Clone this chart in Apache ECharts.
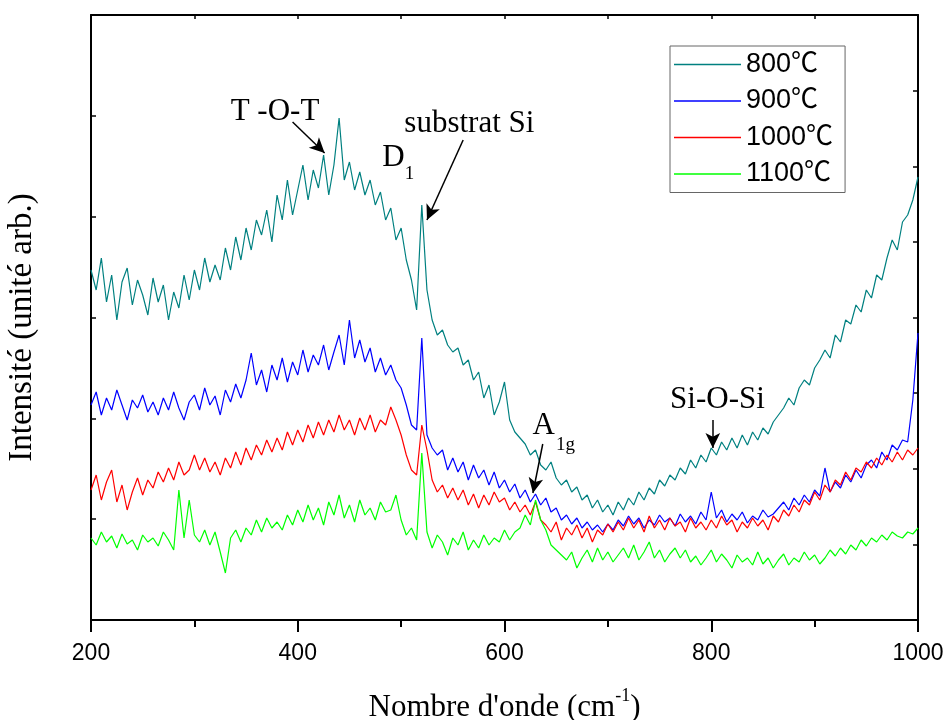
<!DOCTYPE html>
<html>
<head>
<meta charset="utf-8">
<script src="https://cdn.jsdelivr.net/npm/echarts@6/dist/echarts.min.js"></script>
<style>html,body{margin:0;padding:0;background:#fff;}#c{width:945px;height:720px;}</style>
</head>
<body>
<div id="c"></div>
<script>
const wavenumbers = [200,205,210,215,220,225,230,235,240,245,250,255,260,265,270,275,280,285,290,295,
300,305,310,315,320,325,330,335,340,345,350,355,360,365,370,375,380,385,390,395,
400,405,410,415,420,425,430,435,440,445,450,455,460,465,470,475,480,485,490,495,
500,505,510,515,520,525,530,535,540,545,550,555,560,565,570,575,580,585,590,595,
600,605,610,615,620,625,630,635,640,645,650,655,660,665,670,675,680,685,690,695,
700,705,710,715,720,725,730,735,740,745,750,755,760,765,770,775,780,785,790,795,
800,805,810,815,820,825,830,835,840,845,850,855,860,865,870,875,880,885,890,895,
900,905,910,915,920,925,930,935,940,945,950,955,960,965,970,975,980,985,990,995,1000];

const s800 = [350,330,362,318,345,300,338,352,315,340,325,305,342,318,335,300,328,312,345,320,
350,330,362,338,355,340,372,350,383,360,392,370,400,385,410,378,425,400,440,405,
430,455,420,450,432,465,425,455,502,440,458,430,448,425,440,415,428,400,412,380,
392,360,340,310,415,330,300,285,290,275,268,272,255,260,240,248,222,235,205,218,
238,200,188,182,176,165,170,155,150,158,142,135,140,128,133,120,125,112,120,108,
115,105,118,110,122,115,128,120,132,126,140,134,145,140,152,146,160,152,165,158,
172,165,178,170,182,172,185,175,188,180,192,186,198,205,212,222,215,232,240,235,
252,260,270,262,285,278,300,296,315,308,330,322,345,340,362,380,370,398,405,420,443];

const s900 = [215,228,205,222,210,230,215,200,220,212,225,208,218,205,222,210,228,212,200,218,
225,210,232,215,224,205,230,218,236,222,240,267,235,250,228,255,240,262,238,258,
245,270,248,265,255,275,250,268,285,255,300,262,280,258,272,248,262,245,255,240,
232,215,195,190,282,185,172,165,170,150,162,148,158,140,155,142,150,135,148,132,
140,128,136,122,130,118,126,115,122,108,112,100,105,96,102,92,98,90,95,88,
96,90,100,94,104,96,102,92,100,95,105,98,102,94,106,98,104,96,108,100,
128,102,110,98,106,100,108,97,104,100,110,103,106,112,118,110,122,115,125,118,
130,124,152,128,138,132,145,138,150,142,155,160,152,168,160,175,170,180,178,220,287];

const s1000 = [130,145,120,138,150,118,135,110,128,142,125,140,132,148,138,152,140,158,145,150,
165,150,162,148,158,145,162,152,168,155,172,160,175,165,180,168,182,170,188,175,
190,178,195,182,198,185,200,188,205,190,200,185,202,190,205,188,200,195,213,200,
185,165,150,145,195,170,140,128,135,122,132,120,130,115,126,112,125,115,128,118,
122,110,118,108,115,105,118,100,95,88,98,80,92,85,95,82,92,78,90,85,
96,88,98,90,102,92,100,88,104,92,100,90,102,94,98,88,102,92,98,90,
100,92,104,95,100,88,98,92,102,94,100,90,104,98,110,104,115,108,120,115,
128,120,135,128,140,135,148,140,152,148,158,152,162,155,165,158,168,160,170,165,172];

const s1100 = [82,75,88,78,84,72,86,76,80,70,85,78,82,74,88,80,70,130,82,120,
85,78,90,75,88,68,47,82,90,78,92,85,100,88,102,92,98,90,105,95,
110,98,115,100,112,95,118,105,125,102,115,98,120,105,112,100,118,108,110,125,
100,85,92,80,167,88,72,85,78,65,82,75,88,70,80,72,85,75,82,78,
90,80,88,92,105,95,120,100,90,75,70,65,60,68,52,62,70,58,72,60,
68,58,65,72,62,75,60,68,78,62,70,58,66,72,62,70,58,64,55,62,
70,58,66,60,52,65,58,62,55,68,56,62,52,60,66,55,62,58,68,60,
65,56,62,70,64,72,66,75,70,80,74,82,78,85,80,88,84,82,88,86,92];

const seriesNames = ['800℃','900℃','1000℃','1100℃'];
const seriesColors = ['#008080','#0000ff','#ff0000','#00ff00'];
const seriesValues = [s800, s900, s1000, s1100];

// annotation labels [x (cm-1), intensity, text]
const annotLabels = [
  [378, 508, 'T -O-T'],
  [492.6, 462, 'D'],
  [566, 496, 'substrat Si'],
  [638, 194, 'A'],
  [806, 220, 'Si-O-Si']
];
// subscripts [x (cm-1), intensity, text]
const annotSubs = [
  [508, 446, '1'],
  [659, 175, '1g']
];
// annotation arrows [x1, y1, x2, y2]
const annotArrows = [
  [395, 498, 426, 467],
  [560, 480, 525, 400],
  [637, 176, 627.5, 127],
  [801.5, 200, 801.5, 172]
];

const serif = 'Liberation Serif, Times New Roman, serif';
const sans = 'Liberation Sans, Arial, Noto Sans CJK SC, sans-serif';

const chart = echarts.init(document.getElementById('c'), null, {renderer: 'canvas'});

const series = seriesNames.map((n, k) => ({
  name: n,
  type: 'line',
  xAxisIndex: 0,
  yAxisIndex: 0,
  symbol: 'none',
  showSymbol: false,
  data: wavenumbers.map((w, i) => [w, seriesValues[k][i]]),
  lineStyle: {color: seriesColors[k], width: 1.2},
  itemStyle: {color: seriesColors[k]},
  z: 2 + k
}));

function textSeries(name, data, size) {
  return {
    name: name,
    type: 'scatter',
    xAxisIndex: 0,
    yAxisIndex: 0,
    symbolSize: 0,
    silent: true,
    z: 10,
    itemStyle: {opacity: 1, color: '#000'},
    data: data,
    label: {
      show: true,
      position: 'inside',
      formatter: p => p.value[2],
      color: '#000',
      opacity: 1,
      textBorderWidth: 0,
      fontFamily: serif,
      fontSize: size
    }
  };
}

const annot = textSeries('annotations', annotLabels, 31);
annot.markLine = {
  silent: true,
  animation: false,
  symbol: ['none', 'arrow'],
  symbolSize: [11, 15],
  label: {show: false},
  lineStyle: {color: '#000', width: 1.5, type: 'solid', opacity: 1},
  data: annotArrows.map(a => [{coord: [a[0], a[1]]}, {coord: [a[2], a[3]]}])
};
series.push(annot);
series.push(textSeries('subscripts', annotSubs, 19));

const option = {
  animation: false,
  backgroundColor: '#fff',
  grid: {left: 91, right: 27, top: 15, bottom: 100, outerBoundsMode: 'none', containLabel: false},
  legend: {
    data: seriesNames,
    orient: 'vertical',
    left: 670,
    top: 46,
    padding: [5, 12, 5, 4],
    itemGap: 9.5,
    itemWidth: 67,
    itemHeight: 1.5,
    icon: 'rect',
    borderColor: '#666',
    borderWidth: 1,
    textStyle: {fontFamily: sans, fontSize: 27, lineHeight: 27, color: '#000'}
  },
  xAxis: [
    {
      type: 'value', position: 'bottom', min: 200, max: 1000, interval: 200,
      axisLine: {show: true, onZero: false, lineStyle: {color: '#000', width: 2}},
      axisTick: {show: true, inside: false, length: 12, lineStyle: {color: '#000', width: 2}},
      minorTick: {show: true, splitNumber: 2, length: 7, lineStyle: {color: '#000', width: 2}},
      axisLabel: {fontFamily: sans, fontSize: 23, color: '#000', margin: 22, formatter: v => String(v)},
      splitLine: {show: false},
      name: "{n|Nombre d'onde (cm}{sup|-1}{n|)}",
      nameLocation: 'middle',
      nameGap: 67,
      nameTextStyle: {
        rich: {
          n: {fontFamily: serif, fontSize: 31, color: '#000', lineHeight: 36, verticalAlign: 'bottom'},
          sup: {fontFamily: serif, fontSize: 18, color: '#000', lineHeight: 36, verticalAlign: 'top'}
        }
      }
    },
    {
      type: 'value', position: 'top', min: 200, max: 1000, interval: 100,
      axisLine: {show: true, onZero: false, lineStyle: {color: '#000', width: 2}},
      axisTick: {show: true, inside: true, length: 4, lineStyle: {color: '#000', width: 1.5}},
      axisLabel: {show: false},
      splitLine: {show: false}
    }
  ],
  yAxis: [
    {
      type: 'value', position: 'left', min: 0, max: 605, interval: 605 / 6,
      axisLine: {show: true, onZero: false, lineStyle: {color: '#000', width: 2}},
      axisTick: {show: true, inside: true, length: 5, lineStyle: {color: '#000', width: 1.5}},
      axisLabel: {show: false},
      splitLine: {show: false},
      name: 'Intensité (unité arb.)',
      nameLocation: 'middle',
      nameGap: 52,
      nameTextStyle: {fontFamily: serif, fontSize: 33, color: '#000', padding: [0, 20, 0, 0]}
    },
    {
      type: 'value', position: 'right', min: 0, max: 8, interval: 1,
      axisLine: {show: true, onZero: false, lineStyle: {color: '#000', width: 2}},
      axisTick: {show: true, inside: true, length: 5, lineStyle: {color: '#000', width: 1.5}},
      axisLabel: {show: false},
      splitLine: {show: false}
    }
  ],
  series: series
};
chart.setOption(option);
</script>
</body>
</html>
